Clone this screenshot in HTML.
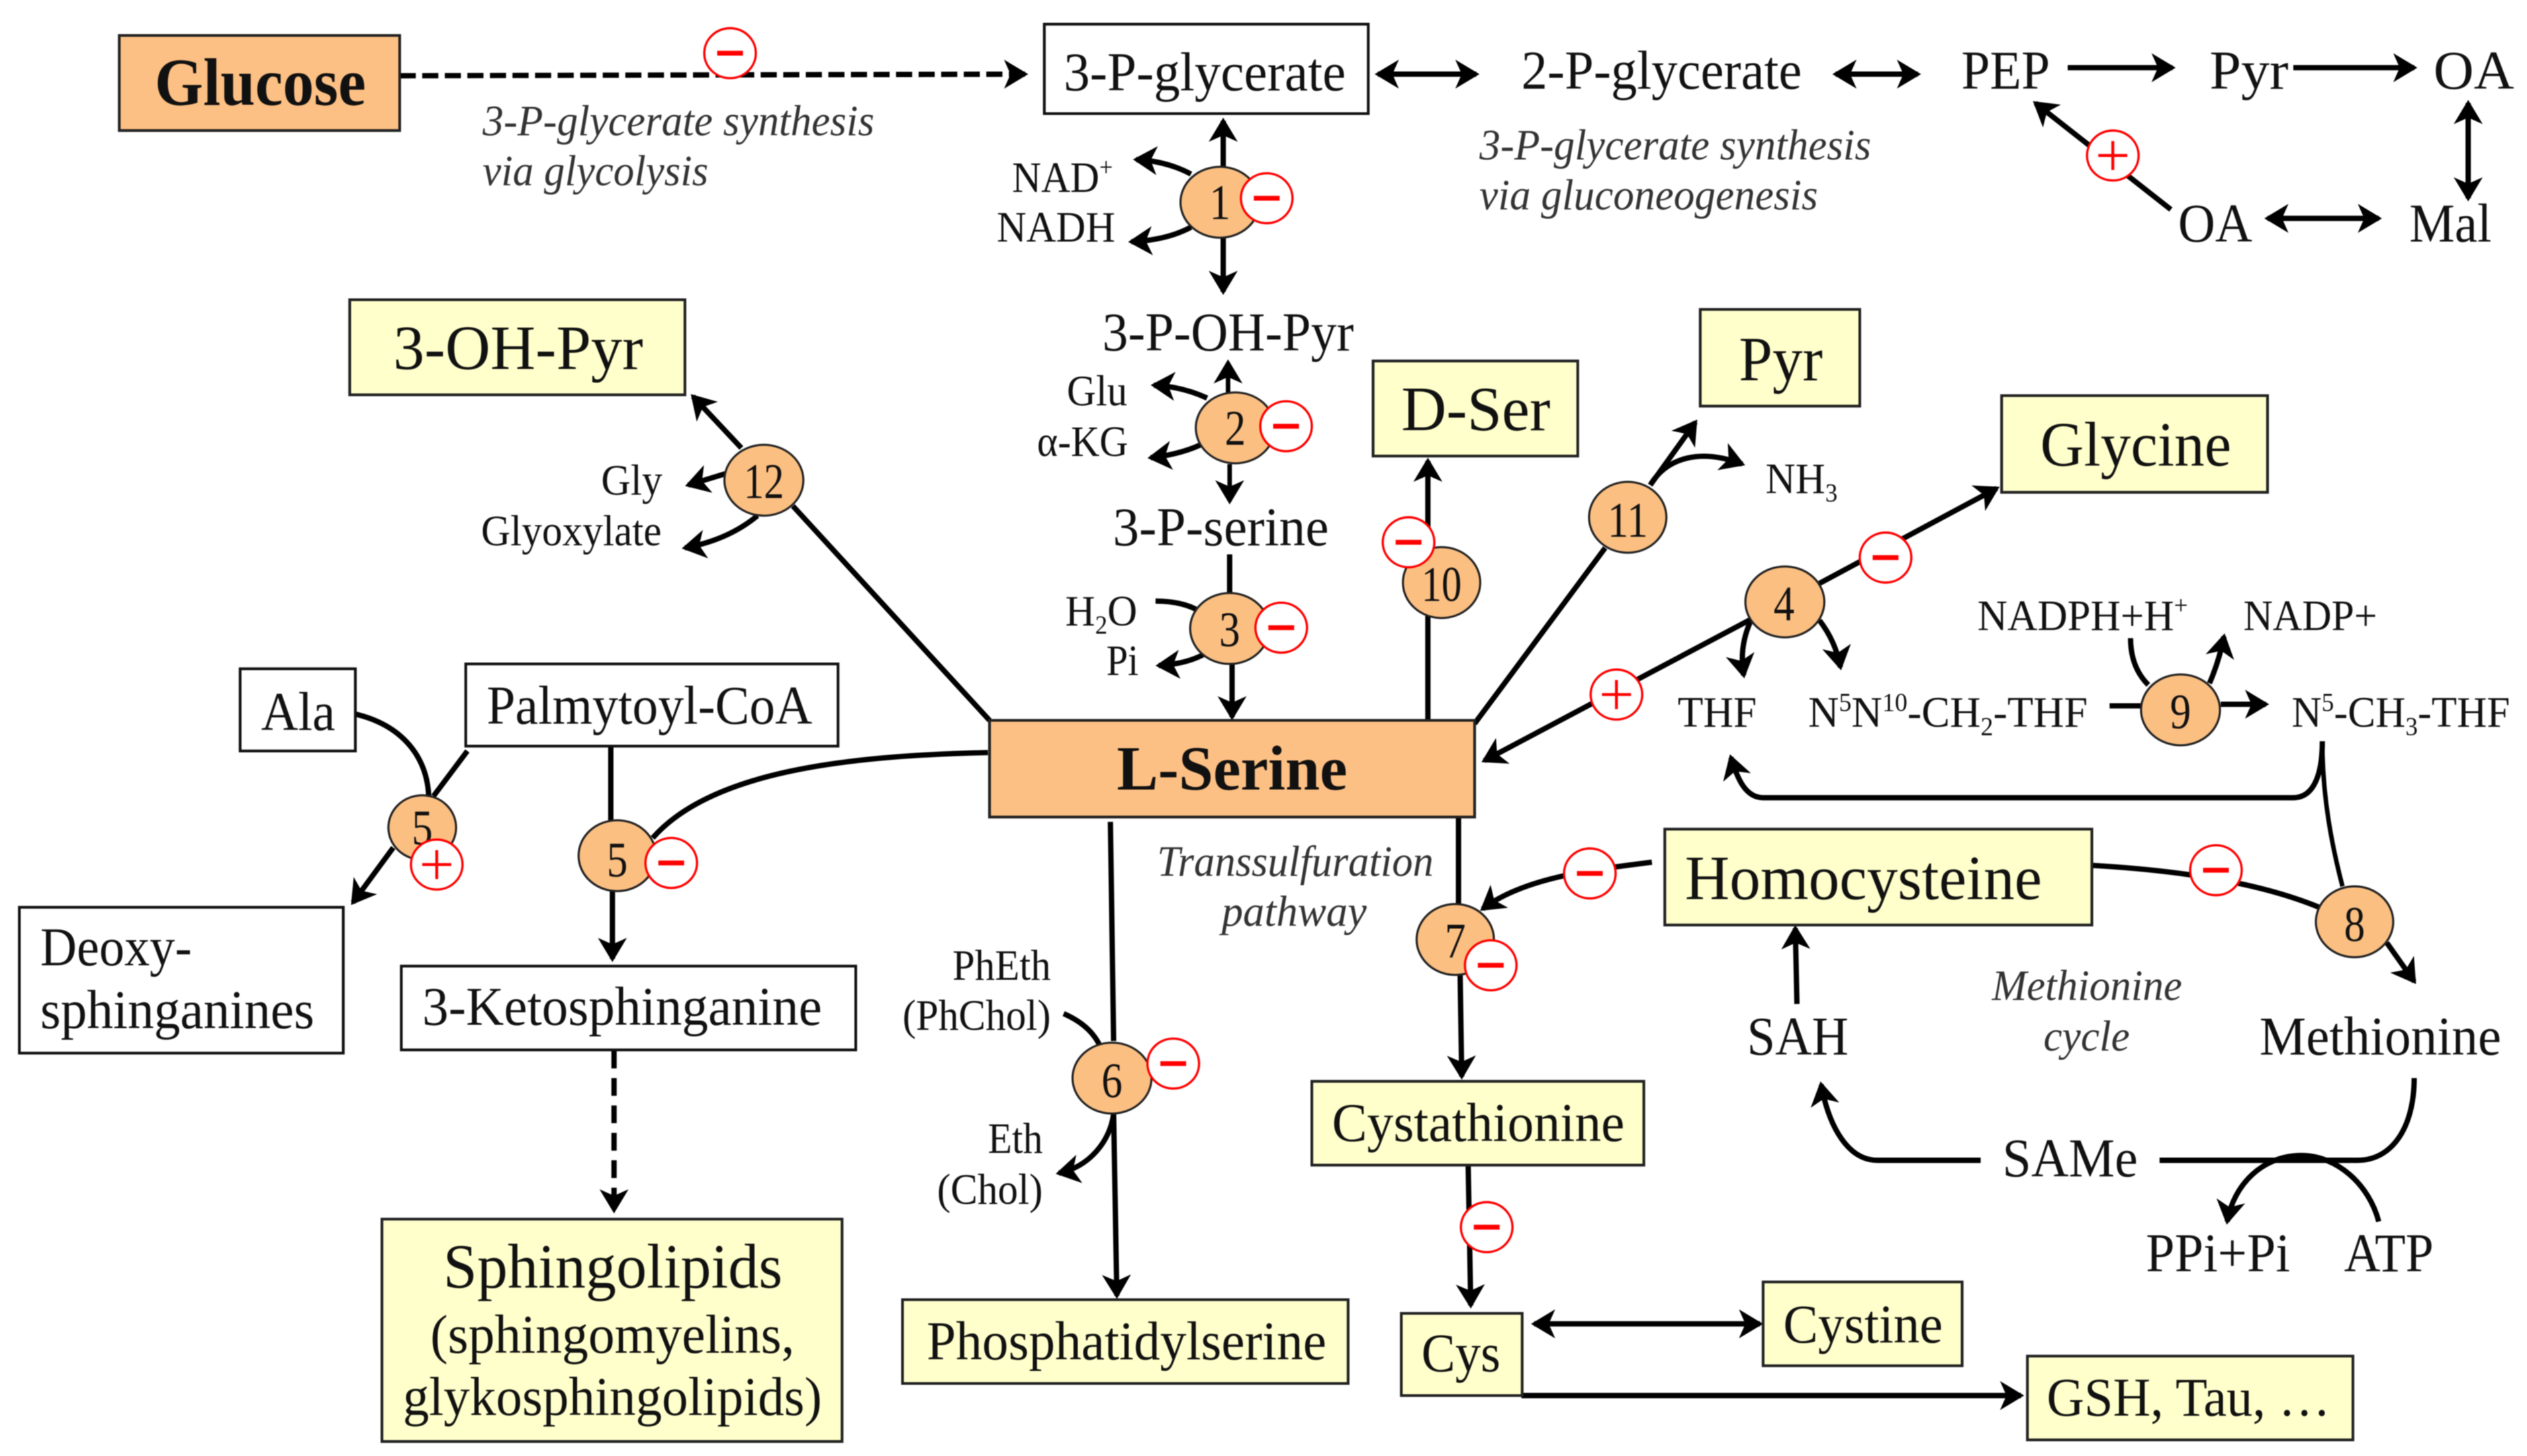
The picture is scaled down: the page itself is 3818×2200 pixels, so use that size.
<!DOCTYPE html>
<html>
<head>
<meta charset="utf-8">
<title>L-Serine metabolism</title>
<style>
html,body{margin:0;padding:0;background:#fff;overflow:hidden;}
svg{display:block;filter:blur(0.9px);}
text{font-family:"Liberation Serif","DejaVu Serif",serif;fill:#111;}
.i{font-style:italic;fill:#333;font-size:27px;}
.s{font-size:27px;}
.m{font-size:34px;}
.l{font-size:39px;}
.n{font-size:31px;text-anchor:middle;}
.b{fill:none;stroke:#000;stroke-width:3.3;}
.t{fill:none;stroke:#000;stroke-width:2.8;}
.w{fill:#fff;stroke:#111;stroke-width:1.7;}
.y{fill:#FFFFCC;stroke:#222;stroke-width:1.7;}
.o{fill:#FDC084;stroke:#222;stroke-width:1.7;}
.c{fill:#FBBF82;stroke:#222;stroke-width:1.3;}
.r{fill:#fff;stroke:#FF0000;stroke-width:1.4;}
.rb{fill:#FF0000;}
</style>
</head>
<body>
<svg xmlns="http://www.w3.org/2000/svg" width="3818" height="2200" viewBox="0 0 1568 903.5">
<defs>
<marker id="a" markerUnits="userSpaceOnUse" markerWidth="40" markerHeight="40" refX="0" refY="0" viewBox="-20 -20 40 40" orient="auto-start-reverse" overflow="visible">
<path d="M-13,-9 L2,0 L-13,9 L-9,0Z" fill="#000"/>
</marker>
</defs>
<rect width="1568" height="903.5" fill="#fff"/>

<!-- connectors -->
<path class="b" stroke-width="3.6" stroke-dasharray="10 4" d="M248,47 L636,46" marker-end="url(#a)"/>
<path class="b" d="M759,181 L759,75" marker-start="url(#a)" marker-end="url(#a)"/>
<path class="b" d="M739,108 Q724,100 705,99" marker-end="url(#a)"/>
<path class="b" d="M739,141 Q724,149 702,150" marker-end="url(#a)"/>
<path class="t" d="M762,244 L762,225" marker-end="url(#a)"/>
<path class="t" d="M763,288 L763,311" marker-end="url(#a)"/>
<path class="b" d="M749,247 Q734,240 716,239" marker-end="url(#a)"/>
<path class="b" d="M745,276 Q732,282 714,284" marker-end="url(#a)"/>
<path class="b" d="M763,344 L763,368"/>
<path class="b" d="M764.5,412 L764.5,445" marker-end="url(#a)"/>
<path class="b" d="M717,373 Q732,373 742,378"/>
<path class="b" d="M747,406 Q736,412 719,413" marker-end="url(#a)"/>
<path class="b" d="M614,447 L492,314"/>
<path class="b" d="M460,278 L430,246" marker-end="url(#a)"/>
<path class="b" d="M450,294 L427,301" marker-end="url(#a)"/>
<path class="b" d="M470,320 Q452,335 425,340" marker-end="url(#a)"/>
<path class="b" d="M886,447 L886,286" marker-end="url(#a)"/>
<path class="b" d="M915,449 L996,340"/>
<path class="b" d="M1024,301 L1052,262" marker-end="url(#a)"/>
<path class="b" d="M1024,301 C1034,284 1055,278 1081,288" marker-end="url(#a)"/>
<path class="b" stroke-width="3.6" d="M1087,384 L921,472" marker-end="url(#a)"/>
<path class="b" stroke-width="3.6" d="M1129,362 L1239,303" marker-end="url(#a)"/>
<path class="b" d="M1086,386 Q1079,402 1082,419" marker-end="url(#a)"/>
<path class="b" d="M1129,385 Q1139,398 1142,414" marker-end="url(#a)"/>
<path class="b" d="M1309,438 L1330,438"/>
<path class="b" d="M1378,437 L1406,437" marker-end="url(#a)"/>
<path class="b" d="M1322,396 Q1322,414 1333,425"/>
<path class="b" d="M1371,424 Q1377,410 1380,395" marker-end="url(#a)"/>
<path class="b" d="M1441,460 C1441,480 1436,495 1423,495 L1094,495 C1083,495 1078,483 1074,470" marker-end="url(#a)"/>
<path class="t" d="M1441,460 C1441,495 1447,525 1453.5,550"/>
<path class="b" stroke-width="4" d="M1298,537 C1350,540 1400,547 1439,563"/>
<path class="b" stroke-width="4" d="M1481,585 L1498,609" marker-end="url(#a)"/>
<path class="b" d="M905,506 L905,561"/>
<path class="b" d="M906,604 L907,668" marker-end="url(#a)"/>
<path class="b" d="M1025,535 C985,540 945,545 920,564" marker-end="url(#a)"/>
<path class="b" d="M911,723 L912.6,810" marker-end="url(#a)"/>
<path class="b" d="M952,821.5 L1092,821.5" marker-start="url(#a)" marker-end="url(#a)"/>
<path class="b" d="M944,866 L1254,866" marker-end="url(#a)"/>
<path class="b" d="M1115,623 L1114,576" marker-end="url(#a)"/>
<path class="b" d="M1498,669 C1498,700 1484,720 1463,720 L1340,720"/>
<path class="b" d="M1229,720 L1165,720 C1147,720 1135,700 1130,673" marker-end="url(#a)"/>
<path class="b" d="M1476,758 C1470,735 1450,717 1428,717 C1404,717 1386,735 1382,758" marker-end="url(#a)"/>
<path class="b" d="M379,463 L379,509"/>
<path class="b" d="M380,553 L380,595" marker-end="url(#a)"/>
<path class="b" d="M613,467 C520,469 440,480 405,520"/>
<path class="b" d="M220,443 C250,450 265,470 266,494"/>
<path class="b" d="M290,466 L269,494"/>
<path class="b" d="M244,526 L219,560" marker-end="url(#a)"/>
<path class="b" stroke-width="3.6" stroke-dasharray="11 6" d="M381,652 L381,751" marker-end="url(#a)"/>
<path class="b" d="M689,510 L691,646"/>
<path class="b" d="M691,691 L693,804" marker-end="url(#a)"/>
<path class="b" d="M660,629 Q676,636 682,648"/>
<path class="b" d="M691,691 C689,708 676,724 657,728" marker-end="url(#a)"/>
<path class="b" d="M1347,130 L1263,64" marker-end="url(#a)"/>
<path class="b" d="M855,46 L916,46" marker-start="url(#a)" marker-end="url(#a)"/>
<path class="b" d="M1139,46 L1190,46" marker-start="url(#a)" marker-end="url(#a)"/>
<path class="b" d="M1283,42 L1348,42" marker-end="url(#a)"/>
<path class="b" d="M1423,42 L1498,42" marker-end="url(#a)"/>
<path class="b" d="M1531.5,64 L1531.5,123" marker-start="url(#a)" marker-end="url(#a)"/>
<path class="b" d="M1407,135.5 L1476,135.5" marker-start="url(#a)" marker-end="url(#a)"/>

<!-- boxes -->
<rect class="o" x="74" y="22" width="174" height="59"/>
<rect class="w" x="648" y="15" width="201" height="55.5"/>
<rect class="y" x="217" y="186" width="208" height="59"/>
<rect class="y" x="852" y="224" width="127" height="59"/>
<rect class="y" x="1055" y="192" width="99" height="60"/>
<rect class="y" x="1242" y="245.5" width="165" height="60"/>
<rect class="w" x="149" y="415" width="71.5" height="51"/>
<rect class="w" x="289" y="412" width="231" height="51"/>
<rect class="o" x="614" y="447" width="301" height="60"/>
<rect class="w" x="12" y="563" width="201" height="90.5"/>
<rect class="w" x="249" y="599.5" width="282" height="52"/>
<rect class="y" x="237" y="756.5" width="285.5" height="138"/>
<rect class="y" x="560" y="806.5" width="276.5" height="52"/>
<rect class="y" x="814" y="671" width="206" height="52"/>
<rect class="y" x="1033" y="514.5" width="265" height="59.5"/>
<rect class="y" x="869.5" y="815" width="75" height="51"/>
<rect class="y" x="1094" y="795.5" width="123.5" height="52"/>
<rect class="y" x="1258" y="841.5" width="202" height="52"/>

<!-- enzyme circles -->
<ellipse class="c" cx="757" cy="125.5" rx="24.5" ry="22"/>
<ellipse class="c" cx="766.5" cy="265.5" rx="24.5" ry="22"/>
<ellipse class="c" cx="763" cy="390" rx="24.5" ry="22"/>
<ellipse class="c" cx="474" cy="298" rx="24.5" ry="22"/>
<ellipse class="c" cx="262" cy="513.5" rx="21" ry="20"/>
<ellipse class="c" cx="383" cy="531" rx="24" ry="22"/>
<ellipse class="c" cx="690" cy="669" rx="24.5" ry="22"/>
<ellipse class="c" cx="894.5" cy="361.5" rx="24" ry="22"/>
<ellipse class="c" cx="1010" cy="321" rx="24" ry="22"/>
<ellipse class="c" cx="1107.5" cy="373.5" rx="24.5" ry="22"/>
<ellipse class="c" cx="1353" cy="440.5" rx="24.5" ry="22"/>
<ellipse class="c" cx="903" cy="583" rx="24" ry="22"/>
<ellipse class="c" cx="1461" cy="572" rx="24" ry="22"/>

<!-- numbers -->
<text class="n" x="757" y="136" textLength="13" lengthAdjust="spacingAndGlyphs">1</text>
<text class="n" x="766.5" y="276" textLength="13" lengthAdjust="spacingAndGlyphs">2</text>
<text class="n" x="763" y="401" textLength="13" lengthAdjust="spacingAndGlyphs">3</text>
<text class="n" x="474" y="309" textLength="25" lengthAdjust="spacingAndGlyphs">12</text>
<text class="n" x="262" y="524" textLength="13" lengthAdjust="spacingAndGlyphs">5</text>
<text class="n" x="383" y="544" textLength="13" lengthAdjust="spacingAndGlyphs">5</text>
<text class="n" x="690" y="681" textLength="13" lengthAdjust="spacingAndGlyphs">6</text>
<text class="n" x="894.5" y="373" textLength="25" lengthAdjust="spacingAndGlyphs">10</text>
<text class="n" x="1010" y="333" textLength="25" lengthAdjust="spacingAndGlyphs">11</text>
<text class="n" x="1107" y="385" textLength="13" lengthAdjust="spacingAndGlyphs">4</text>
<text class="n" x="1353" y="452" textLength="13" lengthAdjust="spacingAndGlyphs">9</text>
<text class="n" x="903" y="594" textLength="13" lengthAdjust="spacingAndGlyphs">7</text>
<text class="n" x="1461" y="584" textLength="13" lengthAdjust="spacingAndGlyphs">8</text>

<!-- inhibitors / activators -->
<g>
<ellipse class="r" cx="453" cy="33" rx="16" ry="15.5"/><rect class="rb" x="445" y="31.5" width="16" height="3"/>
<ellipse class="r" cx="786" cy="123" rx="16" ry="15.5"/><rect class="rb" x="778" y="121.5" width="16" height="3"/>
<ellipse class="r" cx="798" cy="264.5" rx="16" ry="15.5"/><rect class="rb" x="790" y="263" width="16" height="3"/>
<ellipse class="r" cx="795" cy="389.5" rx="16" ry="15.5"/><rect class="rb" x="787" y="388" width="16" height="3"/>
<ellipse class="r" cx="874" cy="336.5" rx="16" ry="15.5"/><rect class="rb" x="866" y="335" width="16" height="3"/>
<ellipse class="r" cx="1170" cy="346" rx="16" ry="15.5"/><rect class="rb" x="1162" y="344.5" width="16" height="3"/>
<ellipse class="r" cx="416.5" cy="535.5" rx="16" ry="15.5"/><rect class="rb" x="408.5" y="534" width="16" height="3"/>
<ellipse class="r" cx="728" cy="660" rx="16" ry="15.5"/><rect class="rb" x="720" y="658.5" width="16" height="3"/>
<ellipse class="r" cx="925" cy="599" rx="16" ry="15.5"/><rect class="rb" x="917" y="597.5" width="16" height="3"/>
<ellipse class="r" cx="986.5" cy="542" rx="16" ry="15.5"/><rect class="rb" x="978.5" y="540.5" width="16" height="3"/>
<ellipse class="r" cx="1375" cy="540" rx="16" ry="15.5"/><rect class="rb" x="1367" y="538.5" width="16" height="3"/>
<ellipse class="r" cx="922.5" cy="761.5" rx="16" ry="15.5"/><rect class="rb" x="914.5" y="760" width="16" height="3"/>
<ellipse class="r" cx="1003" cy="431" rx="16" ry="15.5"/><path d="M994,431 H1012 M1003,422 V440" stroke="#f00" stroke-width="1.8"/>
<ellipse class="r" cx="1311" cy="96.5" rx="16" ry="15.5"/><path d="M1302,96.5 H1320 M1311,87.5 V105.5" stroke="#f00" stroke-width="1.8"/>
<ellipse class="r" cx="271" cy="536.5" rx="16" ry="15.5"/><path d="M262,536.5 H280 M271,527.5 V545.5" stroke="#f00" stroke-width="1.8"/>
</g>

<!-- labels -->
<text x="96" y="65" font-size="42" font-weight="bold" textLength="131" lengthAdjust="spacingAndGlyphs">Glucose</text>
<text class="m" x="660" y="56" textLength="175" lengthAdjust="spacingAndGlyphs">3-P-glycerate</text>
<text class="m" x="944" y="55" textLength="174" lengthAdjust="spacingAndGlyphs">2-P-glycerate</text>
<text class="m" x="1217" y="55" textLength="55" lengthAdjust="spacingAndGlyphs">PEP</text>
<text class="m" x="1371" y="55" textLength="49" lengthAdjust="spacingAndGlyphs">Pyr</text>
<text class="m" x="1510" y="55" textLength="50" lengthAdjust="spacingAndGlyphs">OA</text>
<text class="i" x="299.5" y="84" textLength="243" lengthAdjust="spacingAndGlyphs">3-P-glycerate synthesis</text>
<text class="i" x="299.5" y="115" textLength="140" lengthAdjust="spacingAndGlyphs">via glycolysis</text>
<text class="i" x="918" y="99" textLength="243" lengthAdjust="spacingAndGlyphs">3-P-glycerate synthesis</text>
<text class="i" x="918" y="130" textLength="210" lengthAdjust="spacingAndGlyphs">via gluconeogenesis</text>
<text class="s" transform="translate(628,119) scale(.926,1)">NAD<tspan font-size="16" dy="-10">+</tspan></text>
<text class="s" x="618.5" y="150" textLength="73.5" lengthAdjust="spacingAndGlyphs">NADH</text>
<text class="m" x="1351.5" y="150" textLength="46" lengthAdjust="spacingAndGlyphs">OA</text>
<text class="m" x="1495" y="150" textLength="51" lengthAdjust="spacingAndGlyphs">Mal</text>
<text class="l" x="244" y="229" textLength="155" lengthAdjust="spacingAndGlyphs">3-OH-Pyr</text>
<text class="m" x="684" y="217.5" textLength="156" lengthAdjust="spacingAndGlyphs">3-P-OH-Pyr</text>
<text class="s" x="662" y="251.5" textLength="37.5" lengthAdjust="spacingAndGlyphs">Glu</text>
<text class="s" x="643.5" y="283" textLength="56.5" lengthAdjust="spacingAndGlyphs">α-KG</text>
<text class="m" x="690.5" y="338.5" textLength="134" lengthAdjust="spacingAndGlyphs">3-P-serine</text>
<text class="s" transform="translate(661,388) scale(.95,1)">H<tspan font-size="16" dy="5">2</tspan><tspan dy="-5">O</tspan></text>
<text class="s" x="686.5" y="419" textLength="20" lengthAdjust="spacingAndGlyphs">Pi</text>
<text class="s" x="373" y="307" textLength="38" lengthAdjust="spacingAndGlyphs">Gly</text>
<text class="s" x="298.5" y="338.5" textLength="112" lengthAdjust="spacingAndGlyphs">Glyoxylate</text>
<text class="l" x="869.5" y="267" textLength="92.5" lengthAdjust="spacingAndGlyphs">D-Ser</text>
<text class="l" x="1079" y="236" textLength="52" lengthAdjust="spacingAndGlyphs">Pyr</text>
<text class="l" x="1266" y="289" textLength="118.5" lengthAdjust="spacingAndGlyphs">Glycine</text>
<text class="s" transform="translate(1095.5,306) scale(.95,1)">NH<tspan font-size="16" dy="5">3</tspan></text>
<text class="s" transform="translate(1227,391) scale(.955,1)">NADPH+H<tspan font-size="16" dy="-10">+</tspan></text>
<text class="s" x="1392" y="391" textLength="83" lengthAdjust="spacingAndGlyphs">NADP+</text>
<text class="s" x="1041" y="451" textLength="49" lengthAdjust="spacingAndGlyphs">THF</text>
<text class="s" transform="translate(1122,451) scale(.977,1)">N<tspan font-size="16" dy="-10">5</tspan><tspan dy="10">N</tspan><tspan font-size="16" dy="-10">10</tspan><tspan dy="10">-CH</tspan><tspan font-size="16" dy="5">2</tspan><tspan dy="-5">-THF</tspan></text>
<text class="s" transform="translate(1422,451) scale(.954,1)">N<tspan font-size="16" dy="-10">5</tspan><tspan dy="10">-CH</tspan><tspan font-size="16" dy="5">3</tspan><tspan dy="-5">-THF</tspan></text>
<text class="m" x="162" y="453" textLength="46" lengthAdjust="spacingAndGlyphs">Ala</text>
<text class="m" x="302" y="449" textLength="202" lengthAdjust="spacingAndGlyphs">Palmytoyl-CoA</text>
<text x="693" y="490" font-size="39" font-weight="bold" textLength="143" lengthAdjust="spacingAndGlyphs">L-Serine</text>
<text class="m" x="25" y="599" textLength="94" lengthAdjust="spacingAndGlyphs">Deoxy-</text>
<text class="m" x="25" y="638" textLength="170" lengthAdjust="spacingAndGlyphs">sphinganines</text>
<text class="m" x="262" y="636" textLength="248" lengthAdjust="spacingAndGlyphs">3-Ketosphinganine</text>
<text class="l" x="275" y="799" textLength="210.5" lengthAdjust="spacingAndGlyphs">Sphingolipids</text>
<text class="m" x="267" y="839.5" textLength="226" lengthAdjust="spacingAndGlyphs">(sphingomyelins,</text>
<text class="m" x="250" y="878" textLength="260" lengthAdjust="spacingAndGlyphs">glykosphingolipids)</text>
<text class="s" x="591" y="608" textLength="61" lengthAdjust="spacingAndGlyphs">PhEth</text>
<text class="s" x="560" y="639" textLength="92" lengthAdjust="spacingAndGlyphs">(PhChol)</text>
<text class="s" x="613" y="715.5" textLength="34" lengthAdjust="spacingAndGlyphs">Eth</text>
<text class="s" x="581.5" y="747" textLength="65.5" lengthAdjust="spacingAndGlyphs">(Chol)</text>
<text class="m" x="575" y="843.5" textLength="248" lengthAdjust="spacingAndGlyphs">Phosphatidylserine</text>
<text class="i" x="718" y="543.5" textLength="171.5" lengthAdjust="spacingAndGlyphs">Transsulfuration</text>
<text class="i" x="758" y="574.5" textLength="90" lengthAdjust="spacingAndGlyphs">pathway</text>
<text class="l" x="1045.5" y="558" textLength="221.5" lengthAdjust="spacingAndGlyphs">Homocysteine</text>
<text class="m" x="826.5" y="708" textLength="181.5" lengthAdjust="spacingAndGlyphs">Cystathionine</text>
<text class="i" x="1236" y="620.5" textLength="118" lengthAdjust="spacingAndGlyphs">Methionine</text>
<text class="i" x="1268" y="652" textLength="53.5" lengthAdjust="spacingAndGlyphs">cycle</text>
<text class="m" x="1084" y="654.5" textLength="63" lengthAdjust="spacingAndGlyphs">SAH</text>
<text class="m" x="1402" y="654.5" textLength="150" lengthAdjust="spacingAndGlyphs">Methionine</text>
<text class="m" x="1242.5" y="730" textLength="84" lengthAdjust="spacingAndGlyphs">SAMe</text>
<text class="m" x="1331.5" y="789" textLength="89.5" lengthAdjust="spacingAndGlyphs">PPi+Pi</text>
<text class="m" x="1454.5" y="789" textLength="55.5" lengthAdjust="spacingAndGlyphs">ATP</text>
<text class="m" x="1106.5" y="833" textLength="99" lengthAdjust="spacingAndGlyphs">Cystine</text>
<text class="m" x="882" y="851" textLength="49" lengthAdjust="spacingAndGlyphs">Cys</text>
<text class="m" x="1270" y="878.5" textLength="176" lengthAdjust="spacingAndGlyphs">GSH, Tau, …</text>
</svg>
</body>
</html>
